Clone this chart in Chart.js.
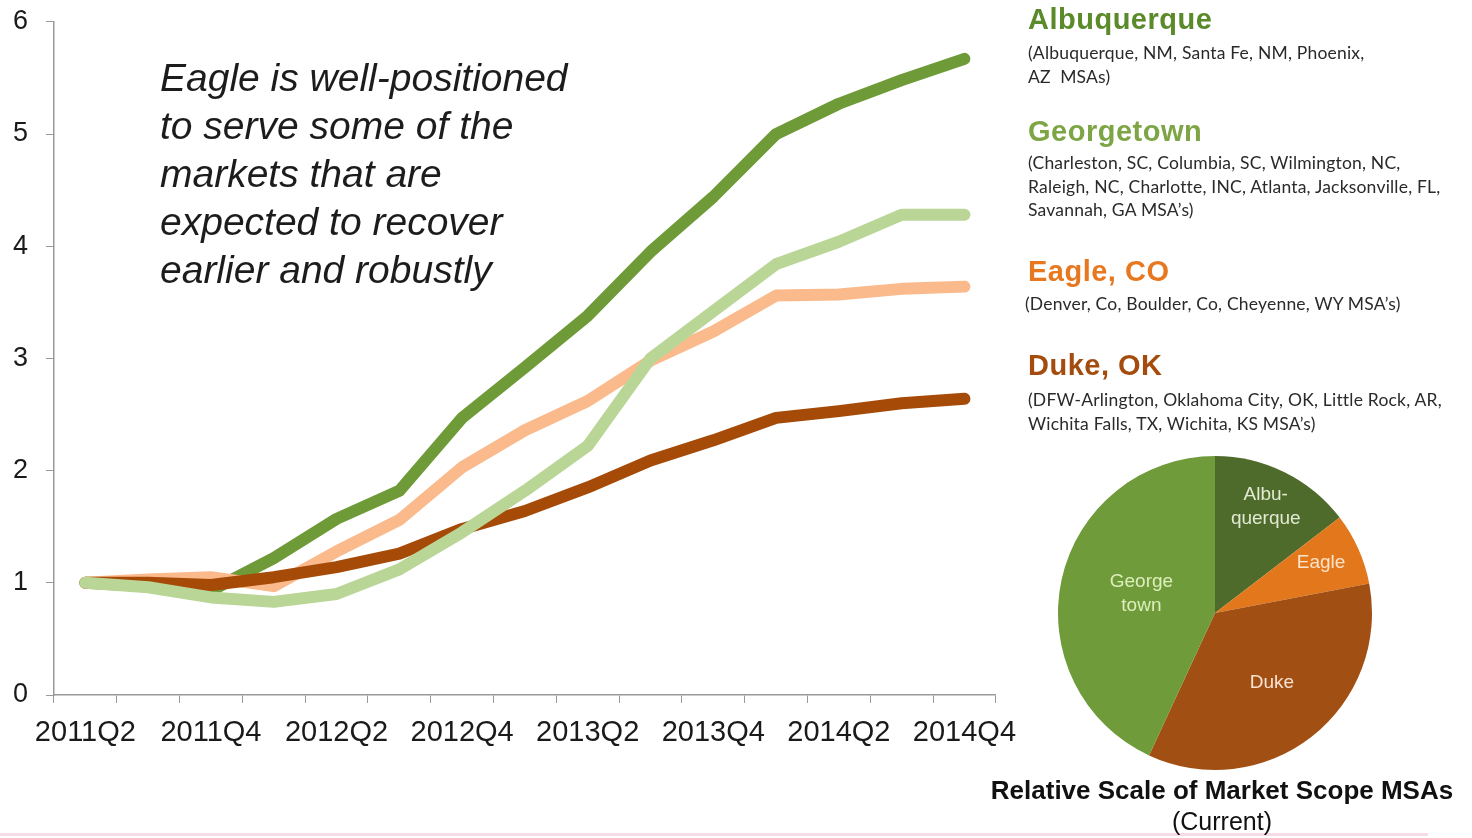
<!DOCTYPE html>
<html>
<head>
<meta charset="utf-8">
<script src="https://cdn.jsdelivr.net/npm/chart.js@4.4.1/dist/chart.umd.min.js"></script>
<style>
  body { margin: 0; background: #fff; width: 1472px; height: 838px; position: relative; overflow: hidden; font-family: "Liberation Sans", Arial, sans-serif; }
  #lineWrap { position: absolute; left: 0; top: -11px; width: 1030px; height: 781px; }
  #pieWrap { position: absolute; left: 1050px; top: 448px; width: 330px; height: 330px; }
  .note { position: absolute; left: 160px; top: 54px; font-size: 39px; line-height: 48px; font-style: italic; color: #1c1c1c; }
  .mkt { position: absolute; left: 1028px; font-weight: bold; font-size: 29px; line-height: 30px; letter-spacing: 0.5px; }
  .msa { position: absolute; left: 1028px; font-family: Lato, "Open Sans", sans-serif; font-size: 17.5px; line-height: 23.5px; letter-spacing: 0.2px; color: #2a2a2a; }
  .pieTitle { position: absolute; left: 960px; width: 524px; text-align: center; color: #111; line-height: 30px; }
  .edge { position: absolute; left: 0; top: 833px; width: 1428px; height: 3px; background: #f6dde5; }
</style>
</head>
<body>
<div class="edge"></div>
<div id="lineWrap"><canvas id="trendChart"></canvas></div>
<div id="pieWrap"><canvas id="scaleChart"></canvas></div>

<div class="note">Eagle is well-positioned<br>to serve some of the<br>markets that are<br>expected to recover<br>earlier and robustly</div>

<div class="mkt" style="top:4px; color:#5b8a2b;">Albuquerque</div>
<div class="msa" style="top:41px;">(Albuquerque, NM, Santa Fe, NM, Phoenix,<br>AZ&nbsp; MSAs)</div>
<div class="mkt" style="top:116px; color:#7ea545;">Georgetown</div>
<div class="msa" style="top:151px;">(Charleston, SC, Columbia, SC, Wilmington, NC,<br>Raleigh, NC, Charlotte, INC, Atlanta, Jacksonville, FL,<br>Savannah, GA MSA’s)</div>
<div class="mkt" style="top:256px; color:#e8781f;">Eagle, CO</div>
<div class="msa" style="top:292px; left:1025px;">(Denver, Co, Boulder, Co, Cheyenne, WY MSA’s)</div>
<div class="mkt" style="top:350px; color:#a44c0e;">Duke, OK</div>
<div class="msa" style="top:388px;">(DFW-Arlington, Oklahoma City, OK, Little Rock, AR,<br>Wichita Falls, TX, Wichita, KS MSA’s)</div>

<div class="pieTitle" style="top:775px; font-size:26px; font-weight:bold;">Relative Scale of Market Scope MSAs</div>
<div class="pieTitle" style="top:806px; font-size:25px;">(Current)</div>

<script>
// quarterly index, 2011Q2 = 1
const quarters = ['2011Q2', '2011Q3', '2011Q4', '2012Q1', '2012Q2', '2012Q3', '2012Q4', '2013Q1',
                  '2013Q2', '2013Q3', '2013Q4', '2014Q1', '2014Q2', '2014Q3', '2014Q4'];
const albuquerque = [1.00, 0.97, 0.93, 1.22, 1.57, 1.82, 2.47, 2.92, 3.38, 3.95, 4.44, 5.00, 5.27, 5.48, 5.67];
const georgetown  = [1.00, 0.96, 0.87, 0.83, 0.90, 1.12, 1.45, 1.82, 2.22, 3.00, 3.42, 3.84, 4.04, 4.28, 4.28];
const eagle       = [1.00, 1.03, 1.05, 0.97, 1.28, 1.56, 2.03, 2.36, 2.62, 2.98, 3.24, 3.56, 3.57, 3.62, 3.64];
const duke        = [1.00, 1.00, 0.98, 1.05, 1.14, 1.26, 1.48, 1.64, 1.85, 2.09, 2.27, 2.47, 2.53, 2.60, 2.64];
const yTicks = [0, 1, 2, 3, 4, 5, 6];

// current share of market scope MSAs
const pieMarkets = ['Albuquerque', 'Eagle', 'Duke', 'Georgetown'];
const pieLabels = [['Albu-', 'querque'], ['Eagle'], ['Duke'], ['George', 'town']];
const pieShares = [14.6, 7.4, 34.9, 43.1];

Chart.defaults.font.family = '"Liberation Sans", Arial, sans-serif';
Chart.defaults.color = '#1a1a1a';

function series(label, data, color, order) {
    return {
        label: label,
        data: data,
        borderColor: color,
        backgroundColor: color,
        borderWidth: 12,
        borderCapStyle: 'round',
        borderJoinStyle: 'round',
        pointRadius: 0,
        tension: 0,
        order: order
    };
}

new Chart(document.getElementById('trendChart'), {
    type: 'line',
    data: {
        labels: quarters,
        datasets: [
            series('Albuquerque', albuquerque, '#6e9a37', 3),
            series('Eagle, CO', eagle, '#fbba8b', 2),
            series('Duke, OK', duke, '#a64a07', 1),
            series('Georgetown', georgetown, '#bad696', 0)
        ]
    },
    options: {
        responsive: true,
        maintainAspectRatio: false,
        animation: false,
        layout: { padding: { top: 0, right: 29, left: 0, bottom: 0 } },
        plugins: { legend: { display: false }, tooltip: { enabled: false } },
        scales: {
            x: {
                offset: true,
                grid: { offset: true, drawOnChartArea: false, drawTicks: true, tickLength: 8, color: '#9a9a9a' },
                border: { display: true, color: '#9a9a9a', width: 1.5 },
                ticks: {
                    autoSkip: false,
                    maxRotation: 0,
                    padding: 13,
                    font: { size: 29 },
                    color: '#1a1a1a',
                    callback: (v, i) => (i % 2 === 0 ? quarters[i] : '')
                },
                afterFit: s => { s.height = 75; }
            },
            y: {
                min: 0,
                max: 6,
                afterBuildTicks: s => { s.ticks = yTicks.map(v => ({ value: v })); },
                grid: { drawOnChartArea: false, drawTicks: true, tickLength: 8, color: '#9a9a9a' },
                border: { display: true, color: '#9a9a9a', width: 1.5 },
                ticks: { padding: 18, font: { size: 27, lineHeight: 1.1 }, color: '#1a1a1a' },
                afterFit: s => { s.width = 54; }
            }
        }
    }
});

// slice names written inside the pie
const sliceText = {
    id: 'sliceText',
    afterDatasetsDraw(chart) {
        const ctx = chart.ctx;
        const arcs = chart.getDatasetMeta(0).data;
        const reach = [0.73, 0.74, 0.59, 0.48];
        const colors = ['#e3ead3', '#fde3c8', '#f8e2d2', '#ddeebd'];
        ctx.save();
        ctx.font = '19px "Liberation Sans", Arial, sans-serif';
        ctx.textAlign = 'center';
        ctx.textBaseline = 'middle';
        arcs.forEach((arc, i) => {
            const p = arc.getProps(['x', 'y', 'startAngle', 'endAngle', 'outerRadius']);
            const mid = (p.startAngle + p.endAngle) / 2;
            const r = p.outerRadius * reach[i];
            const cx = p.x + Math.cos(mid) * r;
            const cy = p.y + Math.sin(mid) * r;
            const lines = pieLabels[i];
            ctx.fillStyle = colors[i];
            lines.forEach((t, k) => {
                ctx.fillText(t, cx, cy + (k - (lines.length - 1) / 2) * 24 - 3);
            });
        });
        ctx.restore();
    }
};

new Chart(document.getElementById('scaleChart'), {
    type: 'pie',
    data: {
        labels: pieMarkets,
        datasets: [{
            data: pieShares,
            backgroundColor: ['#4e6b2b', '#e2771c', '#a24f14', '#6f9b3a'],
            borderWidth: 0
        }]
    },
    options: {
        responsive: true,
        maintainAspectRatio: false,
        animation: false,
        layout: { padding: 8 },
        plugins: { legend: { display: false }, tooltip: { enabled: false } }
    },
    plugins: [sliceText]
});
</script>
</body>
</html>
